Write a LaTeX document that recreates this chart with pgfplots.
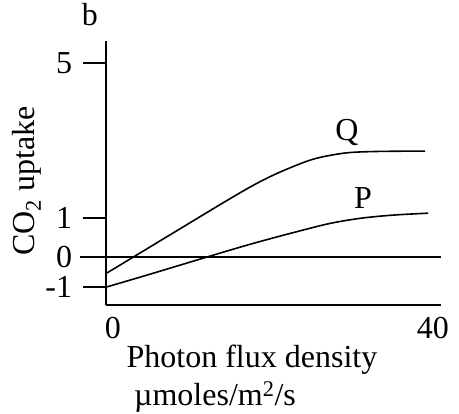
\documentclass[border=0pt]{standalone}
\usepackage{pgfplots}
\pgfplotsset{compat=1.18}
\usepackage{fontspec}
\setmainfont{Liberation Serif}

\begin{document}
\fontsize{32bp}{38bp}\selectfont
\begin{tikzpicture}
\begin{axis}[
    x=8bp, y=38.8bp,
    xmin=-0.875, xmax=41, ymin=-1.24, ymax=5.57,
    axis x line=bottom, axis y line=left,
    axis line style={line width=1.6pt, -},
    xtick={0,40}, xticklabels={0,40},
    xtick style={draw=none},
    xticklabel style={yshift=22bp},
    ytick={-0.77,0,1,5}, yticklabels={-1,0,1,5},
    ytick style={line width=1.6pt, black},
    tick align=outside,
    major tick length=23bp,
    /pgf/number format/assume math mode=true,
    ticklabel style={font=\fontsize{32bp}{38bp}\selectfont},
    clip=false,
]
    % P
    \addplot[black, line width=1.6pt, smooth, tension=0.5] coordinates {
        (-0.75,-0.77) (5,-0.42) (11.75,0) (17,0.32) (22,0.6)
        (27,0.86) (31,1.0) (35,1.08) (39.4,1.13)
    };
    % Q
    \addplot[black, line width=1.6pt, smooth, tension=0.5] coordinates {
        (-0.75,-0.41) (2.55,0) (8,0.68) (14.6,1.5) (18,1.9)
        (21,2.2) (25,2.52) (29,2.68) (33,2.72) (39,2.73)
    };
    \draw[line width=1.6pt] (axis cs:-4.1,0) -- (axis cs:41,0);
    \node at (axis cs:29.25,3.22) {Q};
    \node at (axis cs:31.25,1.52) {P};
    \node at (axis cs:-2.875,6.24) {b};
    \node[rotate=90] at (axis cs:-10.75,1.96) {CO\textsubscript{2} uptake};
    \node at (axis cs:17.375,-2.65) {Photon flux density};
    \node at (axis cs:12.75,-3.61) {µmoles/m\textsuperscript{2}/s};
    \coordinate (bl) at (axis cs:-14.125,-4.021);
    \coordinate (tr) at (axis cs:43.25,6.624);
\end{axis}
\pgfresetboundingbox
\path[use as bounding box] (bl) rectangle (tr);
\end{tikzpicture}
\end{document}
